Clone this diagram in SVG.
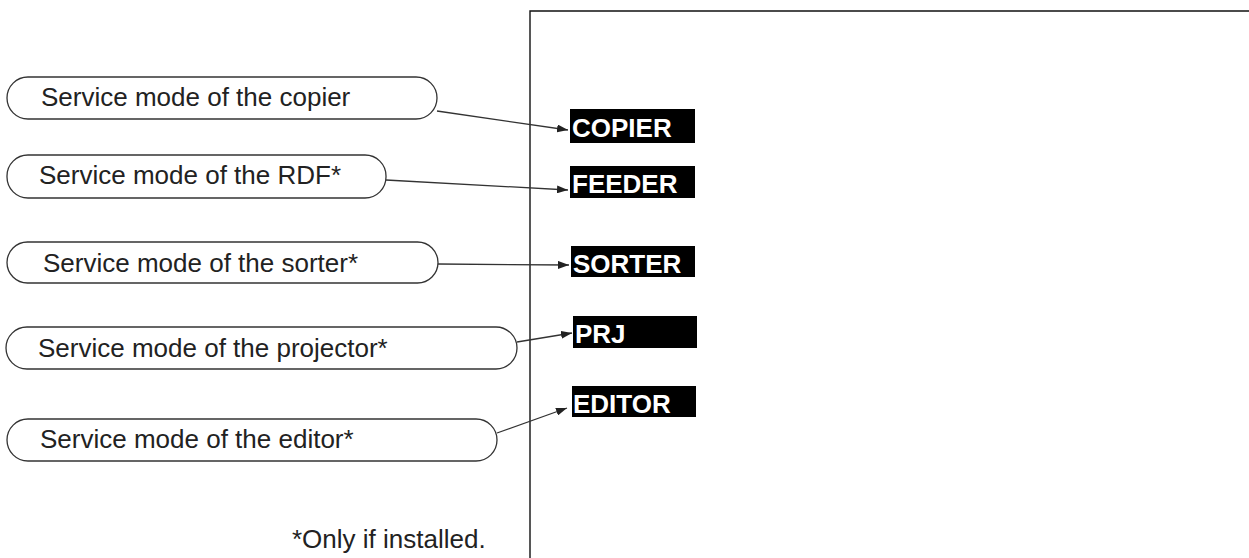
<svg xmlns="http://www.w3.org/2000/svg" width="1249" height="558" viewBox="0 0 1249 558">
<style>
.pill{fill:#fff;stroke:#333;stroke-width:1.3}
.pt{font-family:"Liberation Sans",Arial,sans-serif;font-size:26px;fill:#222}
.lb{fill:#000}
.lt{font-family:"Liberation Sans",Arial,sans-serif;font-size:26px;font-weight:bold;fill:#fff}
.con{fill:none;stroke:#333;stroke-width:1.3}
.frame{fill:none;stroke:#111;stroke-width:1.4}
</style>
<defs>
<marker id="ah" markerUnits="userSpaceOnUse" markerWidth="12" markerHeight="8" refX="11" refY="4" orient="auto">
<path d="M0,0 L11,4 L0,8 Z" fill="#222"/>
</marker>
</defs>
<rect width="1249" height="558" fill="#fff"/>
<path class="frame" d="M530,558 V11 H1250"/>
<g id="n-copier"><rect class="pill" x="7" y="77" width="430" height="42" rx="21"/><text class="pt" x="41" y="106">Service mode of the copier</text></g>
<g id="n-rdf"><rect class="pill" x="7" y="155" width="379" height="43" rx="21"/><text class="pt" x="39" y="184">Service mode of the RDF*</text></g>
<g id="n-sorter"><rect class="pill" x="7" y="242" width="431" height="41" rx="20.5"/><text class="pt" x="43" y="272">Service mode of the sorter*</text></g>
<g id="n-projector"><rect class="pill" x="6" y="327" width="511" height="42" rx="21"/><text class="pt" x="38" y="357">Service mode of the projector*</text></g>
<g id="n-editor"><rect class="pill" x="7" y="419" width="490" height="42" rx="21"/><text class="pt" x="40" y="448">Service mode of the editor*</text></g>
<g id="n-copier-lbl"><rect class="lb" x="570" y="109" width="125" height="34"/><text class="lt" x="572" y="137">COPIER</text></g>
<g id="n-feeder-lbl"><rect class="lb" x="570" y="166" width="125" height="32"/><text class="lt" x="572" y="193">FEEDER</text></g>
<g id="n-sorter-lbl"><rect class="lb" x="571" y="246" width="124" height="31"/><text class="lt" x="573" y="273">SORTER</text></g>
<g id="n-prj-lbl"><rect class="lb" x="573" y="316" width="124" height="32"/><text class="lt" x="575" y="343">PRJ</text></g>
<g id="n-editor-lbl"><rect class="lb" x="572" y="386" width="124" height="31"/><text class="lt" x="573" y="413">EDITOR</text></g>
<g id="connectors">
<line class="con" x1="437" y1="111" x2="568" y2="130" marker-end="url(#ah)"/>
<line class="con" x1="386" y1="180" x2="568" y2="190" marker-end="url(#ah)"/>
<line class="con" x1="438" y1="264" x2="569" y2="265" marker-end="url(#ah)"/>
<line class="con" x1="517" y1="342" x2="572" y2="333" marker-end="url(#ah)"/>
<line class="con" x1="497" y1="433" x2="567" y2="408" marker-end="url(#ah)"/>
</g>
<text class="pt" x="292" y="548">*Only if installed.</text>
</svg>
